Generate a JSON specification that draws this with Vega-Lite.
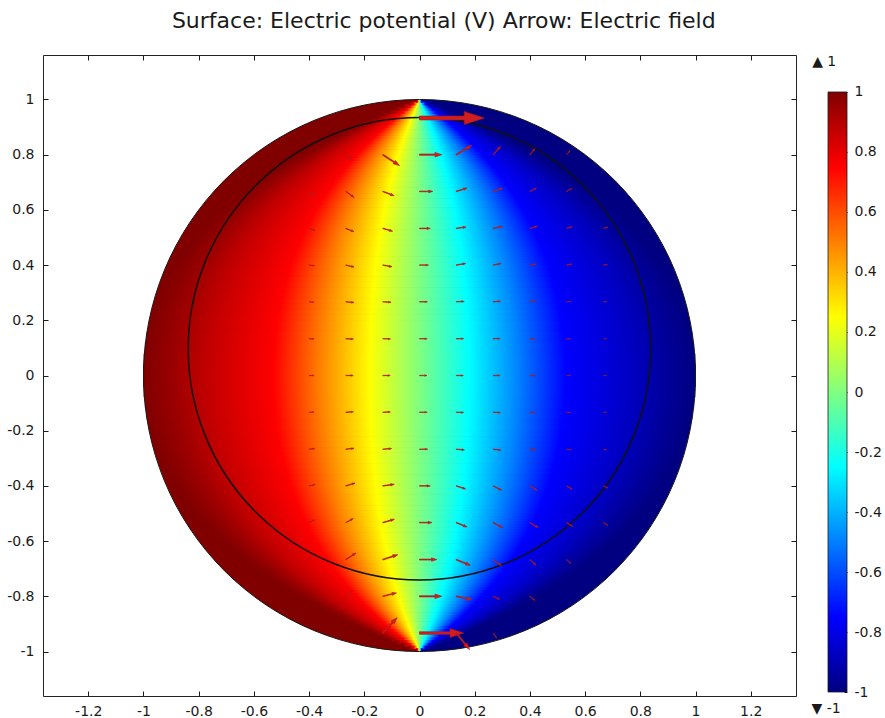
{
  "$schema": "https://vega.github.io/schema/vega-lite/v6.json",
  "padding": {"left": 6, "top": 10, "right": 5, "bottom": 5},
  "background": "white",
  "title": {
    "text": "Surface: Electric potential (V) Arrow: Electric field",
    "font": "DejaVu Sans", "fontSize": 22, "fontWeight": "normal",
    "color": "#1a1a1a", "anchor": "middle", "offset": 21
  },
  "config": {
    "font": "DejaVu Sans",
    "view": {"stroke": "#222222", "strokeWidth": 1},
    "axis": {
      "labelFont": "DejaVu Sans", "labelFontSize": 14, "labelColor": "#1a1a1a",
      "tickColor": "#1a1a1a", "tickWidth": 1, "domain": false, "grid": false
    }
  },
  "datasets": {
    "disk": [
      {"kind": "edge", "cx": 0, "cy": 0, "d": 2},
      {"kind": "inner", "cx": 0, "cy": 0.097, "d": 1.676}
    ],
    "bands": [
      {"y0": 0.00, "y1": 0.04, "l": -0.9997, "r": 0.9997},
      {"y0": 0.04, "y1": 0.08, "l": -0.9975, "r": 0.9975},
      {"y0": 0.08, "y1": 0.12, "l": -0.9930, "r": 0.9930},
      {"y0": 0.12, "y1": 0.16, "l": -0.9862, "r": 0.9862},
      {"y0": 0.16, "y1": 0.20, "l": -0.9770, "r": 0.9770},
      {"y0": 0.20, "y1": 0.22, "l": -0.9685, "r": 0.9685},
      {"y0": 0.22, "y1": 0.24, "l": -0.9621, "r": 0.9621},
      {"y0": 0.24, "y1": 0.26, "l": -0.9551, "r": 0.9551},
      {"y0": 0.26, "y1": 0.28, "l": -0.9474, "r": 0.9474},
      {"y0": 0.28, "y1": 0.30, "l": -0.9390, "r": 0.9390},
      {"y0": 0.30, "y1": 0.32, "l": -0.9300, "r": 0.9300},
      {"y0": 0.32, "y1": 0.34, "l": -0.9202, "r": 0.9202},
      {"y0": 0.34, "y1": 0.36, "l": -0.9097, "r": 0.9097},
      {"y0": 0.36, "y1": 0.38, "l": -0.8985, "r": 0.8985},
      {"y0": 0.38, "y1": 0.40, "l": -0.8866, "r": 0.8866},
      {"y0": 0.40, "y1": 0.41, "l": -0.8771, "r": 0.8771},
      {"y0": 0.41, "y1": 0.42, "l": -0.8705, "r": 0.8705},
      {"y0": 0.42, "y1": 0.43, "l": -0.8638, "r": 0.8638},
      {"y0": 0.43, "y1": 0.44, "l": -0.8568, "r": 0.8568},
      {"y0": 0.44, "y1": 0.45, "l": -0.8496, "r": 0.8496},
      {"y0": 0.45, "y1": 0.46, "l": -0.8422, "r": 0.8422},
      {"y0": 0.46, "y1": 0.47, "l": -0.8346, "r": 0.8346},
      {"y0": 0.47, "y1": 0.48, "l": -0.8268, "r": 0.8268},
      {"y0": 0.48, "y1": 0.49, "l": -0.8187, "r": 0.8187},
      {"y0": 0.49, "y1": 0.50, "l": -0.8105, "r": 0.8105},
      {"y0": 0.50, "y1": 0.51, "l": -0.8020, "r": 0.8020},
      {"y0": 0.51, "y1": 0.52, "l": -0.7932, "r": 0.7932},
      {"y0": 0.52, "y1": 0.53, "l": -0.7843, "r": 0.7843},
      {"y0": 0.53, "y1": 0.54, "l": -0.7751, "r": 0.7751},
      {"y0": 0.54, "y1": 0.55, "l": -0.7656, "r": 0.7656},
      {"y0": 0.55, "y1": 0.56, "l": -0.7559, "r": 0.7559},
      {"y0": 0.56, "y1": 0.57, "l": -0.7460, "r": 0.7460},
      {"y0": 0.57, "y1": 0.58, "l": -0.7358, "r": 0.7358},
      {"y0": 0.58, "y1": 0.59, "l": -0.7253, "r": 0.7253},
      {"y0": 0.59, "y1": 0.60, "l": -0.7146, "r": 0.7146},
      {"y0": 0.60, "y1": 0.61, "l": -0.7036, "r": 0.7036},
      {"y0": 0.61, "y1": 0.62, "l": -0.6923, "r": 0.6923},
      {"y0": 0.62, "y1": 0.63, "l": -0.6808, "r": 0.6808},
      {"y0": 0.63, "y1": 0.64, "l": -0.6690, "r": 0.6690},
      {"y0": 0.64, "y1": 0.65, "l": -0.6569, "r": 0.6569},
      {"y0": 0.65, "y1": 0.66, "l": -0.6445, "r": 0.6445},
      {"y0": 0.66, "y1": 0.67, "l": -0.6318, "r": 0.6318},
      {"y0": 0.67, "y1": 0.68, "l": -0.6188, "r": 0.6188},
      {"y0": 0.68, "y1": 0.69, "l": -0.6055, "r": 0.6055},
      {"y0": 0.69, "y1": 0.70, "l": -0.5919, "r": 0.5919},
      {"y0": 0.70, "y1": 0.71, "l": -0.5780, "r": 0.5780},
      {"y0": 0.71, "y1": 0.72, "l": -0.5637, "r": 0.5637},
      {"y0": 0.72, "y1": 0.73, "l": -0.5492, "r": 0.5492},
      {"y0": 0.73, "y1": 0.74, "l": -0.5343, "r": 0.5343},
      {"y0": 0.74, "y1": 0.75, "l": -0.5191, "r": 0.5191},
      {"y0": 0.75, "y1": 0.76, "l": -0.5035, "r": 0.5035},
      {"y0": 0.76, "y1": 0.77, "l": -0.4876, "r": 0.4876},
      {"y0": 0.77, "y1": 0.78, "l": -0.4713, "r": 0.4713},
      {"y0": 0.78, "y1": 0.79, "l": -0.4547, "r": 0.4547},
      {"y0": 0.79, "y1": 0.80, "l": -0.4377, "r": 0.4377},
      {"y0": 0.80, "y1": 0.81, "l": -0.4204, "r": 0.4204},
      {"y0": 0.81, "y1": 0.82, "l": -0.4027, "r": 0.4027},
      {"y0": 0.82, "y1": 0.83, "l": -0.3846, "r": 0.3846},
      {"y0": 0.83, "y1": 0.84, "l": -0.3661, "r": 0.3661},
      {"y0": 0.84, "y1": 0.85, "l": -0.3472, "r": 0.3472},
      {"y0": 0.85, "y1": 0.86, "l": -0.3280, "r": 0.3280},
      {"y0": 0.86, "y1": 0.87, "l": -0.3083, "r": 0.3083},
      {"y0": 0.87, "y1": 0.88, "l": -0.2882, "r": 0.2882},
      {"y0": 0.88, "y1": 0.89, "l": -0.2677, "r": 0.2677},
      {"y0": 0.89, "y1": 0.90, "l": -0.2468, "r": 0.2468},
      {"y0": 0.90, "y1": 0.91, "l": -0.2254, "r": 0.2254},
      {"y0": 0.91, "y1": 0.92, "l": -0.2037, "r": 0.2037},
      {"y0": 0.92, "y1": 0.93, "l": -0.1814, "r": 0.1814},
      {"y0": 0.93, "y1": 0.94, "l": -0.1588, "r": 0.1588},
      {"y0": 0.94, "y1": 0.95, "l": -0.1356, "r": 0.1356},
      {"y0": 0.95, "y1": 0.96, "l": -0.1120, "r": 0.1120},
      {"y0": 0.96, "y1": 0.97, "l": -0.0880, "r": 0.0880},
      {"y0": 0.97, "y1": 0.98, "l": -0.0635, "r": 0.0635},
      {"y0": 0.98, "y1": 0.99, "l": -0.0384, "r": 0.0384},
      {"y0": 0.99, "y1": 1.00, "l": -0.0129, "r": 0.0129},
      {"y0": -0.04, "y1": 0.00, "l": -0.9997, "r": 0.9997},
      {"y0": -0.08, "y1": -0.04, "l": -0.9975, "r": 0.9975},
      {"y0": -0.12, "y1": -0.08, "l": -0.9930, "r": 0.9930},
      {"y0": -0.16, "y1": -0.12, "l": -0.9862, "r": 0.9862},
      {"y0": -0.20, "y1": -0.16, "l": -0.9770, "r": 0.9770},
      {"y0": -0.22, "y1": -0.20, "l": -0.9685, "r": 0.9685},
      {"y0": -0.24, "y1": -0.22, "l": -0.9621, "r": 0.9621},
      {"y0": -0.26, "y1": -0.24, "l": -0.9551, "r": 0.9551},
      {"y0": -0.28, "y1": -0.26, "l": -0.9474, "r": 0.9474},
      {"y0": -0.30, "y1": -0.28, "l": -0.9390, "r": 0.9390},
      {"y0": -0.32, "y1": -0.30, "l": -0.9300, "r": 0.9300},
      {"y0": -0.34, "y1": -0.32, "l": -0.9202, "r": 0.9202},
      {"y0": -0.36, "y1": -0.34, "l": -0.9097, "r": 0.9097},
      {"y0": -0.38, "y1": -0.36, "l": -0.8985, "r": 0.8985},
      {"y0": -0.40, "y1": -0.38, "l": -0.8866, "r": 0.8866},
      {"y0": -0.41, "y1": -0.40, "l": -0.8771, "r": 0.8771},
      {"y0": -0.42, "y1": -0.41, "l": -0.8705, "r": 0.8705},
      {"y0": -0.43, "y1": -0.42, "l": -0.8638, "r": 0.8638},
      {"y0": -0.44, "y1": -0.43, "l": -0.8568, "r": 0.8568},
      {"y0": -0.45, "y1": -0.44, "l": -0.8496, "r": 0.8496},
      {"y0": -0.46, "y1": -0.45, "l": -0.8422, "r": 0.8422},
      {"y0": -0.47, "y1": -0.46, "l": -0.8346, "r": 0.8346},
      {"y0": -0.48, "y1": -0.47, "l": -0.8268, "r": 0.8268},
      {"y0": -0.49, "y1": -0.48, "l": -0.8187, "r": 0.8187},
      {"y0": -0.50, "y1": -0.49, "l": -0.8105, "r": 0.8105},
      {"y0": -0.51, "y1": -0.50, "l": -0.8020, "r": 0.8020},
      {"y0": -0.52, "y1": -0.51, "l": -0.7932, "r": 0.7932},
      {"y0": -0.53, "y1": -0.52, "l": -0.7843, "r": 0.7843},
      {"y0": -0.54, "y1": -0.53, "l": -0.7751, "r": 0.7751},
      {"y0": -0.55, "y1": -0.54, "l": -0.7656, "r": 0.7656},
      {"y0": -0.56, "y1": -0.55, "l": -0.7559, "r": 0.7559},
      {"y0": -0.57, "y1": -0.56, "l": -0.7460, "r": 0.7460},
      {"y0": -0.58, "y1": -0.57, "l": -0.7358, "r": 0.7358},
      {"y0": -0.59, "y1": -0.58, "l": -0.7253, "r": 0.7253},
      {"y0": -0.60, "y1": -0.59, "l": -0.7146, "r": 0.7146},
      {"y0": -0.61, "y1": -0.60, "l": -0.7036, "r": 0.7036},
      {"y0": -0.62, "y1": -0.61, "l": -0.6923, "r": 0.6923},
      {"y0": -0.63, "y1": -0.62, "l": -0.6808, "r": 0.6808},
      {"y0": -0.64, "y1": -0.63, "l": -0.6690, "r": 0.6690},
      {"y0": -0.65, "y1": -0.64, "l": -0.6569, "r": 0.6569},
      {"y0": -0.66, "y1": -0.65, "l": -0.6445, "r": 0.6445},
      {"y0": -0.67, "y1": -0.66, "l": -0.6318, "r": 0.6318},
      {"y0": -0.68, "y1": -0.67, "l": -0.6188, "r": 0.6188},
      {"y0": -0.69, "y1": -0.68, "l": -0.6055, "r": 0.6055},
      {"y0": -0.70, "y1": -0.69, "l": -0.5919, "r": 0.5919},
      {"y0": -0.71, "y1": -0.70, "l": -0.5780, "r": 0.5780},
      {"y0": -0.72, "y1": -0.71, "l": -0.5637, "r": 0.5637},
      {"y0": -0.73, "y1": -0.72, "l": -0.5492, "r": 0.5492},
      {"y0": -0.74, "y1": -0.73, "l": -0.5343, "r": 0.5343},
      {"y0": -0.75, "y1": -0.74, "l": -0.5191, "r": 0.5191},
      {"y0": -0.76, "y1": -0.75, "l": -0.5035, "r": 0.5035},
      {"y0": -0.77, "y1": -0.76, "l": -0.4876, "r": 0.4876},
      {"y0": -0.78, "y1": -0.77, "l": -0.4713, "r": 0.4713},
      {"y0": -0.79, "y1": -0.78, "l": -0.4547, "r": 0.4547},
      {"y0": -0.80, "y1": -0.79, "l": -0.4377, "r": 0.4377},
      {"y0": -0.81, "y1": -0.80, "l": -0.4204, "r": 0.4204},
      {"y0": -0.82, "y1": -0.81, "l": -0.4027, "r": 0.4027},
      {"y0": -0.83, "y1": -0.82, "l": -0.3846, "r": 0.3846},
      {"y0": -0.84, "y1": -0.83, "l": -0.3661, "r": 0.3661},
      {"y0": -0.85, "y1": -0.84, "l": -0.3472, "r": 0.3472},
      {"y0": -0.86, "y1": -0.85, "l": -0.3280, "r": 0.3280},
      {"y0": -0.87, "y1": -0.86, "l": -0.3083, "r": 0.3083},
      {"y0": -0.88, "y1": -0.87, "l": -0.2882, "r": 0.2882},
      {"y0": -0.89, "y1": -0.88, "l": -0.2677, "r": 0.2677},
      {"y0": -0.90, "y1": -0.89, "l": -0.2468, "r": 0.2468},
      {"y0": -0.91, "y1": -0.90, "l": -0.2254, "r": 0.2254},
      {"y0": -0.92, "y1": -0.91, "l": -0.2037, "r": 0.2037},
      {"y0": -0.93, "y1": -0.92, "l": -0.1814, "r": 0.1814},
      {"y0": -0.94, "y1": -0.93, "l": -0.1588, "r": 0.1588},
      {"y0": -0.95, "y1": -0.94, "l": -0.1356, "r": 0.1356},
      {"y0": -0.96, "y1": -0.95, "l": -0.1120, "r": 0.1120},
      {"y0": -0.97, "y1": -0.96, "l": -0.0880, "r": 0.0880},
      {"y0": -0.98, "y1": -0.97, "l": -0.0635, "r": 0.0635},
      {"y0": -0.99, "y1": -0.98, "l": -0.0384, "r": 0.0384},
      {"y0": -1.00, "y1": -0.99, "l": -0.0129, "r": 0.0129}
    ],
    "arrows": [
      {"x": 0, "y": 0.933, "m": 0.235, "a": 0},
      {"x": -0.267, "y": 0.8, "m": 0.032, "a": 39},
      {"x": -0.133, "y": 0.8, "m": 0.072, "a": 33},
      {"x": 0, "y": 0.8, "m": 0.081, "a": 0},
      {"x": 0.133, "y": 0.8, "m": 0.066, "a": 329},
      {"x": 0.267, "y": 0.8, "m": 0.040, "a": 312},
      {"x": 0.4, "y": 0.8, "m": 0.028, "a": 309},
      {"x": 0.533, "y": 0.8, "m": 0.019, "a": 309},
      {"x": -0.4, "y": 0.667, "m": 0.025, "a": 37},
      {"x": -0.267, "y": 0.667, "m": 0.037, "a": 36},
      {"x": -0.133, "y": 0.667, "m": 0.044, "a": 21},
      {"x": 0, "y": 0.667, "m": 0.048, "a": 0},
      {"x": 0.133, "y": 0.667, "m": 0.041, "a": 343},
      {"x": 0.267, "y": 0.667, "m": 0.036, "a": 341},
      {"x": 0.4, "y": 0.667, "m": 0.027, "a": 333},
      {"x": 0.533, "y": 0.667, "m": 0.021, "a": 331},
      {"x": -0.4, "y": 0.533, "m": 0.023, "a": 20},
      {"x": -0.267, "y": 0.533, "m": 0.032, "a": 22},
      {"x": -0.133, "y": 0.533, "m": 0.037, "a": 16},
      {"x": 0, "y": 0.533, "m": 0.039, "a": 0},
      {"x": 0.133, "y": 0.533, "m": 0.036, "a": 352},
      {"x": 0.267, "y": 0.533, "m": 0.035, "a": 348},
      {"x": 0.4, "y": 0.533, "m": 0.028, "a": 345},
      {"x": 0.533, "y": 0.533, "m": 0.021, "a": 343},
      {"x": 0.667, "y": 0.533, "m": 0.016, "a": 342},
      {"x": -0.4, "y": 0.4, "m": 0.020, "a": 6},
      {"x": -0.267, "y": 0.4, "m": 0.031, "a": 13},
      {"x": -0.133, "y": 0.4, "m": 0.034, "a": 10},
      {"x": 0, "y": 0.4, "m": 0.033, "a": 0},
      {"x": 0.133, "y": 0.4, "m": 0.035, "a": 350},
      {"x": 0.267, "y": 0.4, "m": 0.029, "a": 348},
      {"x": 0.4, "y": 0.4, "m": 0.024, "a": 351},
      {"x": 0.533, "y": 0.4, "m": 0.020, "a": 349},
      {"x": 0.667, "y": 0.4, "m": 0.014, "a": 348},
      {"x": -0.4, "y": 0.267, "m": 0.018, "a": 4},
      {"x": -0.267, "y": 0.267, "m": 0.030, "a": 5},
      {"x": -0.133, "y": 0.267, "m": 0.030, "a": 3},
      {"x": 0, "y": 0.267, "m": 0.029, "a": 0},
      {"x": 0.133, "y": 0.267, "m": 0.029, "a": 357},
      {"x": 0.267, "y": 0.267, "m": 0.027, "a": 356},
      {"x": 0.4, "y": 0.267, "m": 0.021, "a": 355},
      {"x": 0.533, "y": 0.267, "m": 0.016, "a": 354},
      {"x": 0.667, "y": 0.267, "m": 0.012, "a": 355},
      {"x": -0.4, "y": 0.133, "m": 0.018, "a": 2},
      {"x": -0.267, "y": 0.133, "m": 0.028, "a": 2},
      {"x": -0.133, "y": 0.133, "m": 0.028, "a": 1},
      {"x": 0, "y": 0.133, "m": 0.028, "a": 0},
      {"x": 0.133, "y": 0.133, "m": 0.027, "a": 359},
      {"x": 0.267, "y": 0.133, "m": 0.025, "a": 358},
      {"x": 0.4, "y": 0.133, "m": 0.020, "a": 358},
      {"x": 0.533, "y": 0.133, "m": 0.015, "a": 357},
      {"x": 0.667, "y": 0.133, "m": 0.011, "a": 357},
      {"x": -0.4, "y": 0, "m": 0.018, "a": 0},
      {"x": -0.267, "y": 0, "m": 0.027, "a": 0},
      {"x": -0.133, "y": 0, "m": 0.027, "a": 0},
      {"x": 0, "y": 0, "m": 0.027, "a": 0},
      {"x": 0.133, "y": 0, "m": 0.026, "a": 0},
      {"x": 0.267, "y": 0, "m": 0.025, "a": 0},
      {"x": 0.4, "y": 0, "m": 0.020, "a": 0},
      {"x": 0.533, "y": 0, "m": 0.015, "a": 0},
      {"x": 0.667, "y": 0, "m": 0.011, "a": 0},
      {"x": -0.4, "y": -0.133, "m": 0.018, "a": 358},
      {"x": -0.267, "y": -0.133, "m": 0.028, "a": 357},
      {"x": -0.133, "y": -0.133, "m": 0.028, "a": 358},
      {"x": 0, "y": -0.133, "m": 0.028, "a": 0},
      {"x": 0.133, "y": -0.133, "m": 0.027, "a": 2},
      {"x": 0.267, "y": -0.133, "m": 0.026, "a": 3},
      {"x": 0.4, "y": -0.133, "m": 0.020, "a": 3},
      {"x": 0.533, "y": -0.133, "m": 0.015, "a": 4},
      {"x": 0.667, "y": -0.133, "m": 0.011, "a": 4},
      {"x": -0.4, "y": -0.267, "m": 0.020, "a": 355},
      {"x": -0.267, "y": -0.267, "m": 0.030, "a": 354},
      {"x": -0.133, "y": -0.267, "m": 0.032, "a": 356},
      {"x": 0, "y": -0.267, "m": 0.030, "a": 0},
      {"x": 0.133, "y": -0.267, "m": 0.030, "a": 5},
      {"x": 0.267, "y": -0.267, "m": 0.028, "a": 7},
      {"x": 0.4, "y": -0.267, "m": 0.022, "a": 8},
      {"x": 0.533, "y": -0.267, "m": 0.017, "a": 8},
      {"x": 0.667, "y": -0.267, "m": 0.012, "a": 8},
      {"x": -0.4, "y": -0.4, "m": 0.023, "a": 347},
      {"x": -0.267, "y": -0.4, "m": 0.035, "a": 343},
      {"x": -0.133, "y": -0.4, "m": 0.042, "a": 352},
      {"x": 0, "y": -0.4, "m": 0.039, "a": 0},
      {"x": 0.133, "y": -0.4, "m": 0.036, "a": 18},
      {"x": 0.267, "y": -0.4, "m": 0.034, "a": 27},
      {"x": 0.4, "y": -0.4, "m": 0.031, "a": 31},
      {"x": 0.533, "y": -0.4, "m": 0.023, "a": 31},
      {"x": 0.667, "y": -0.4, "m": 0.017, "a": 28},
      {"x": -0.4, "y": -0.533, "m": 0.022, "a": 333},
      {"x": -0.267, "y": -0.533, "m": 0.031, "a": 331},
      {"x": -0.133, "y": -0.533, "m": 0.044, "a": 344},
      {"x": 0, "y": -0.533, "m": 0.045, "a": 0},
      {"x": 0.133, "y": -0.533, "m": 0.042, "a": 22},
      {"x": 0.267, "y": -0.533, "m": 0.039, "a": 28},
      {"x": 0.4, "y": -0.533, "m": 0.035, "a": 31},
      {"x": 0.533, "y": -0.533, "m": 0.026, "a": 32},
      {"x": 0.667, "y": -0.533, "m": 0.018, "a": 34},
      {"x": -0.4, "y": -0.667, "m": 0.025, "a": 323},
      {"x": -0.267, "y": -0.667, "m": 0.044, "a": 327},
      {"x": -0.133, "y": -0.667, "m": 0.057, "a": 342},
      {"x": 0, "y": -0.667, "m": 0.063, "a": 0},
      {"x": 0.133, "y": -0.667, "m": 0.055, "a": 22},
      {"x": 0.267, "y": -0.667, "m": 0.037, "a": 36},
      {"x": 0.4, "y": -0.667, "m": 0.030, "a": 42},
      {"x": 0.533, "y": -0.667, "m": 0.021, "a": 43},
      {"x": -0.267, "y": -0.8, "m": 0.032, "a": 321},
      {"x": -0.133, "y": -0.8, "m": 0.051, "a": 346},
      {"x": 0, "y": -0.8, "m": 0.081, "a": 0},
      {"x": 0.133, "y": -0.8, "m": 0.058, "a": 12},
      {"x": 0.267, "y": -0.8, "m": 0.026, "a": 25},
      {"x": 0.4, "y": -0.8, "m": 0.023, "a": 40},
      {"x": -0.133, "y": -0.933, "m": 0.076, "a": 313},
      {"x": 0, "y": -0.933, "m": 0.16, "a": 0},
      {"x": 0.133, "y": -0.933, "m": 0.077, "a": 51},
      {"x": 0.267, "y": -0.933, "m": 0.022, "a": 56}
    ],
    "bar": [{"x0": 0, "x1": 1, "y0": -1, "y1": 1}],
    "extrema": [
      {"x": -0.2, "y": 1.1, "t": "▲ 1"},
      {"x": -0.1, "y": -1.057, "t": "▼ -1"}
    ]
  },
  "bounds": "flush",
  "spacing": 32,
  "hconcat": [
    {
      "width": 753,
      "height": 641,
      "resolve": {"axis": {"x": "independent", "y": "independent"}},
      "layer": [
        {
          "data": {"name": "disk"},
          "transform": [{"filter": "datum.kind == 'edge'"}],
          "mark": {
            "type": "point", "shape": "circle", "filled": true, "opacity": 1, "strokeWidth": 0,
            "fill": {
              "gradient": "linear", "x1": 0, "y1": 0, "x2": 1, "y2": 0,
              "stops": [
                {"offset": 0, "color": "#800000"},
                {"offset": 0.5, "color": "#800000"},
                {"offset": 0.5, "color": "#000080"},
                {"offset": 1, "color": "#000080"}
              ]
            }
          },
          "encoding": {
            "x": {
              "field": "cx", "type": "quantitative",
              "scale": {"domain": [-1.364, 1.364], "nice": false, "zero": false},
              "axis": {
                "orient": "bottom", "title": null, "tickSize": -5, "labelPadding": 13,
                "values": [-1.2, -1, -0.8, -0.6, -0.4, -0.2, 0, 0.2, 0.4, 0.6, 0.8, 1, 1.2],
                "labelExpr": "'' + datum.value"
              }
            },
            "y": {
              "field": "cy", "type": "quantitative",
              "scale": {"domain": [-1.1612, 1.1612], "nice": false, "zero": false},
              "axis": {
                "orient": "left", "title": null, "tickSize": -5, "labelPadding": 14,
                "values": [-1, -0.8, -0.6, -0.4, -0.2, 0, 0.2, 0.4, 0.6, 0.8, 1],
                "labelExpr": "'' + datum.value"
              }
            },
            "size": {
              "field": "d", "type": "quantitative", "legend": null,
              "scale": {"type": "pow", "exponent": 2, "domain": [0, 1], "range": [0, 76176]}
            }
          }
        },
        {
          "data": {"name": "bands"},
          "mark": {
            "type": "rect", "strokeWidth": 1,
            "fill": {
              "gradient": "linear", "x1": 0, "y1": 0, "x2": 1, "y2": 0,
              "stops": [
                {"offset": 0, "color": "#800000"},
                {"offset": 0.05, "color": "#990000"},
                {"offset": 0.11, "color": "#bf0000"},
                {"offset": 0.235, "color": "#ff0000"},
                {"offset": 0.32, "color": "#ff8000"},
                {"offset": 0.41, "color": "#ffff00"},
                {"offset": 0.5, "color": "#80ff80"},
                {"offset": 0.59, "color": "#00ffff"},
                {"offset": 0.68, "color": "#0080ff"},
                {"offset": 0.765, "color": "#0000ff"},
                {"offset": 0.89, "color": "#0000bf"},
                {"offset": 0.95, "color": "#000099"},
                {"offset": 1, "color": "#000080"}
              ]
            },
            "stroke": {
              "gradient": "linear", "x1": 0, "y1": 0, "x2": 1, "y2": 0,
              "stops": [
                {"offset": 0, "color": "#800000"},
                {"offset": 0.05, "color": "#990000"},
                {"offset": 0.11, "color": "#bf0000"},
                {"offset": 0.235, "color": "#ff0000"},
                {"offset": 0.32, "color": "#ff8000"},
                {"offset": 0.41, "color": "#ffff00"},
                {"offset": 0.5, "color": "#80ff80"},
                {"offset": 0.59, "color": "#00ffff"},
                {"offset": 0.68, "color": "#0080ff"},
                {"offset": 0.765, "color": "#0000ff"},
                {"offset": 0.89, "color": "#0000bf"},
                {"offset": 0.95, "color": "#000099"},
                {"offset": 1, "color": "#000080"}
              ]
            }
          },
          "encoding": {
            "x": {
              "field": "l", "type": "quantitative",
              "axis": {
                "orient": "top", "title": null, "tickSize": -5, "labels": false,
                "values": [-1.2, -1, -0.8, -0.6, -0.4, -0.2, 0, 0.2, 0.4, 0.6, 0.8, 1, 1.2]
              }
            },
            "x2": {"field": "r"},
            "y": {
              "field": "y0", "type": "quantitative",
              "axis": {
                "orient": "right", "title": null, "tickSize": -5, "labels": false,
                "values": [-1, -0.8, -0.6, -0.4, -0.2, 0, 0.2, 0.4, 0.6, 0.8, 1]
              }
            },
            "y2": {"field": "y1"}
          }
        },
        {
          "data": {"name": "disk"},
          "transform": [{"filter": "datum.kind == 'edge'"}],
          "mark": {"type": "point", "shape": "circle", "filled": false, "opacity": 1, "stroke": "#1a1a1a", "strokeWidth": 1},
          "encoding": {
            "x": {"field": "cx", "type": "quantitative", "axis": null},
            "y": {"field": "cy", "type": "quantitative", "axis": null},
            "size": {"field": "d", "type": "quantitative", "legend": null,
              "scale": {"type": "pow", "exponent": 2, "domain": [0, 1], "range": [0, 76176]}}
          }
        },
        {
          "data": {"name": "disk"},
          "transform": [{"filter": "datum.kind == 'inner'"}],
          "mark": {"type": "point", "shape": "circle", "filled": false, "opacity": 1, "stroke": "#111111", "strokeWidth": 1.5},
          "encoding": {
            "x": {"field": "cx", "type": "quantitative", "axis": null},
            "y": {"field": "cy", "type": "quantitative", "axis": null},
            "size": {"field": "d", "type": "quantitative", "legend": null,
              "scale": {"type": "pow", "exponent": 2, "domain": [0, 1], "range": [0, 76176]}}
          }
        },
        {
          "data": {"name": "arrows"},
          "mark": {
            "type": "point",
            "shape": "M0,-0.06L1.38,-0.06L1.38,-0.2L2,0L1.38,0.2L1.38,0.06L0,0.06Z",
            "filled": true, "opacity": 1,
            "fill": "#d01e1e", "stroke": "#ae1818", "strokeWidth": 0.6
          },
          "encoding": {
            "x": {"field": "x", "type": "quantitative", "axis": null},
            "y": {"field": "y", "type": "quantitative", "axis": null},
            "size": {"field": "m", "type": "quantitative", "legend": null,
              "scale": {"type": "pow", "exponent": 2, "domain": [0, 1], "range": [0, 76176]}},
            "angle": {"field": "a", "type": "quantitative", "scale": null}
          }
        }
      ]
    },
    {
      "width": 19,
      "height": 641,
      "view": {"stroke": null},
      "layer": [
        {
          "data": {"name": "bar"},
          "mark": {
            "type": "rect", "stroke": "#1a1a1a", "strokeWidth": 0.8,
            "fill": {
              "gradient": "linear", "x1": 0, "y1": 1, "x2": 0, "y2": 0,
              "stops": [
                {"offset": 0, "color": "#000080"},
                {"offset": 0.125, "color": "#0000ff"},
                {"offset": 0.375, "color": "#00ffff"},
                {"offset": 0.5, "color": "#80ff80"},
                {"offset": 0.625, "color": "#ffff00"},
                {"offset": 0.875, "color": "#ff0000"},
                {"offset": 1, "color": "#800000"}
              ]
            }
          },
          "encoding": {
            "x": {"field": "x0", "type": "quantitative", "axis": null,
              "scale": {"domain": [0, 1], "nice": false, "zero": false}},
            "x2": {"field": "x1"},
            "y": {
              "field": "y0", "type": "quantitative",
              "scale": {"domain": [-1.0133, 1.1233], "nice": false, "zero": false},
              "axis": {
                "orient": "right", "title": null, "tickSize": -3, "labelPadding": 10,
                "values": [-1, -0.8, -0.6, -0.4, -0.2, 0, 0.2, 0.4, 0.6, 0.8, 1],
                "labelExpr": "'' + datum.value"
              }
            },
            "y2": {"field": "y1"}
          }
        },
        {
          "data": {"name": "extrema"},
          "mark": {"type": "text", "font": "DejaVu Sans", "fontSize": 14, "color": "#1a1a1a"},
          "encoding": {
            "x": {"field": "x", "type": "quantitative"},
            "y": {"field": "y", "type": "quantitative"},
            "text": {"field": "t"}
          }
        }
      ]
    }
  ]
}
